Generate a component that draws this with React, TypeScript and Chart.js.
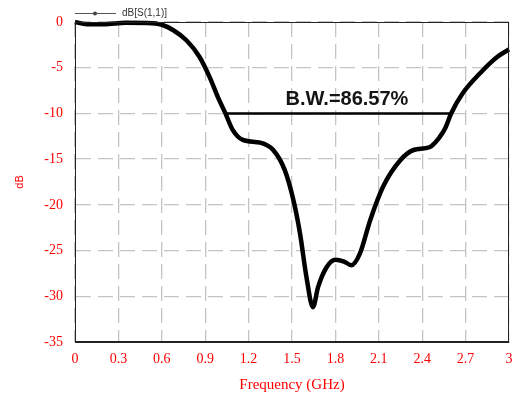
import React, { useEffect, useRef } from "react";
import { Chart, registerables } from "chart.js";

Chart.register(...registerables);

const freqGHz = [0, 0.08, 0.2, 0.35, 0.5, 0.6, 0.68, 0.77, 0.86, 0.93, 0.99, 1.04, 1.09, 1.16, 1.28, 1.37, 1.45, 1.51, 1.555, 1.6, 1.645, 1.68, 1.74, 1.8, 1.86, 1.91, 1.97, 2.04, 2.13, 2.25, 2.34, 2.45, 2.52, 2.56, 2.6, 2.68, 2.8, 2.92, 3.0];
const s11dB = [0, -0.25, -0.25, -0.08, -0.1, -0.3, -0.9, -2.0, -3.8, -6.0, -8.3, -10.0, -11.8, -12.9, -13.2, -14.0, -16.2, -19.5, -23.1, -27.9, -31.2, -29.0, -26.8, -26.0, -26.2, -26.6, -25.3, -21.7, -18.0, -15.1, -14.0, -13.7, -12.6, -11.6, -10.0, -7.8, -5.6, -3.8, -3.0];
const bwEdgesGHz = [1.04, 2.6];
const bwLevel = -10;
const bwLabel = "B.W.=86.57%";
const bwLabelPos = { x: 1.88, y: -9.05 };
const xTicks = [0, 0.3, 0.6, 0.9, 1.2, 1.5, 1.8, 2.1, 2.4, 2.7, 3];
const yTicks = [0, -5, -10, -15, -20, -25, -30, -35];
const seriesName = "dB[S(1,1)]";
const xTitle = "Frequency (GHz)";
const yTitle = "dB";

const RED = "#ff0000";
const SERIF = "'Liberation Serif', 'Times New Roman', serif";

const overlayPlugin = {
  id: "overlay",
  afterDraw(chart: any) {
    const { ctx, chartArea } = chart;
    const xs = chart.scales.x;
    const ys = chart.scales.y;
    ctx.save();
    ctx.strokeStyle = "#222";
    ctx.lineWidth = 1;
    ctx.setLineDash([]);
    ctx.strokeRect(chartArea.left + 0.5, chartArea.top + 0.5, chartArea.right - chartArea.left - 1, chartArea.bottom - chartArea.top - 1);
    ctx.fillStyle = "#141414";
    ctx.font = "bold 20px 'Liberation Sans', Arial, sans-serif";
    ctx.textAlign = "center";
    ctx.textBaseline = "alphabetic";
    ctx.fillText(bwLabel, xs.getPixelForValue(bwLabelPos.x), ys.getPixelForValue(bwLabelPos.y));
    ctx.strokeStyle = "#555";
    ctx.lineWidth = 1;
    ctx.beginPath();
    ctx.moveTo(75, 13.5);
    ctx.lineTo(116, 13.5);
    ctx.stroke();
    ctx.fillStyle = "#444";
    ctx.beginPath();
    ctx.arc(95, 13.5, 2, 0, Math.PI * 2);
    ctx.fill();
    ctx.fillStyle = "#333";
    ctx.font = "10px 'Liberation Sans', Arial, sans-serif";
    ctx.textAlign = "left";
    ctx.textBaseline = "middle";
    ctx.fillText(seriesName, 122, 13.5);
    ctx.fillStyle = RED;
    ctx.font = "15px " + SERIF;
    ctx.textAlign = "center";
    ctx.textBaseline = "middle";
    ctx.fillText(xTitle, (chartArea.left + chartArea.right) / 2, 385);
    ctx.save();
    ctx.translate(20, (chartArea.top + chartArea.bottom) / 2);
    ctx.rotate(-Math.PI / 2);
    ctx.font = "11px 'Liberation Sans', Arial, sans-serif";
    ctx.fillText(yTitle, 0, 0);
    ctx.restore();
    ctx.restore();
  },
};

export default function App() {
  const ref = useRef<HTMLCanvasElement | null>(null);
  useEffect(() => {
    document.body.style.margin = "0";
    const canvas = ref.current;
    if (!canvas) return;
    const chart = new Chart(canvas, {
      type: "line",
      data: {
        datasets: [
          {
            label: seriesName,
            data: freqGHz.map((f, i) => ({ x: f, y: s11dB[i] })),
            borderColor: "#000",
            borderWidth: 4.5,
            pointRadius: 0,
            cubicInterpolationMode: "monotone",
            clip: false as any,
          },
          {
            label: "bw",
            data: bwEdgesGHz.map((f) => ({ x: f, y: bwLevel })),
            borderColor: "#000",
            borderWidth: 2.5,
            pointRadius: 0,
            tension: 0,
          },
        ],
      },
      options: {
        animation: false,
        responsive: false,
        maintainAspectRatio: false,
        layout: { padding: { top: 22, right: 4, left: 0, bottom: 0 } },
        plugins: { legend: { display: false }, tooltip: { enabled: false } },
        scales: {
          x: {
            type: "linear",
            min: 0,
            max: 3,
            afterBuildTicks: (s: any) => {
              s.ticks = xTicks.map((v) => ({ value: v }));
            },
            afterFit: (s: any) => {
              s.height = 52;
              s.paddingRight = 0;
              s.paddingLeft = 0;
            },
            ticks: {
              color: RED,
              font: { family: SERIF, size: 14 },
              padding: 9,
              maxRotation: 0,
              autoSkip: false,
              callback: (v: any) => String(Number(Number(v).toFixed(1))),
            },
            grid: { color: "#c4c4c4", lineWidth: 1.3, drawTicks: false },
            border: { display: true, color: "#222", width: 1, dash: [15, 7] },
          },
          y: {
            type: "linear",
            min: -35,
            max: 0,
            afterBuildTicks: (s: any) => {
              s.ticks = yTicks.map((v) => ({ value: v }));
            },
            afterFit: (s: any) => {
              s.width = 75;
              s.paddingTop = 0;
              s.paddingBottom = 0;
            },
            ticks: {
              color: RED,
              font: { family: SERIF, size: 14 },
              padding: 12,
              autoSkip: false,
              callback: (v: any) => String(v),
            },
            grid: { color: "#c4c4c4", lineWidth: 1.3, drawTicks: false },
            border: { display: true, color: "#222", width: 1, dash: [15, 7] },
          },
        },
      },
      plugins: [overlayPlugin],
    } as any);
    return () => chart.destroy();
  }, []);
  return (
    <div style={{ width: 513, height: 394 }}>
      <canvas ref={ref} width={513} height={394} style={{ display: "block", width: 513, height: 394 }} />
    </div>
  );
}
